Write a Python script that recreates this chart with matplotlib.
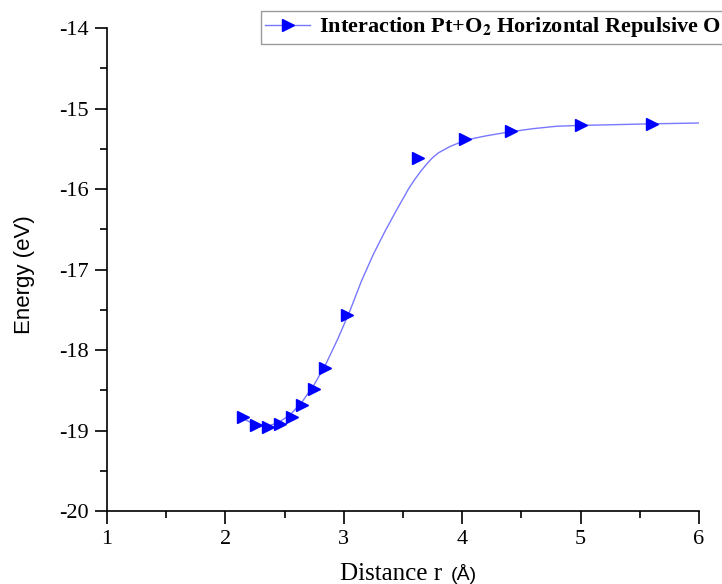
import matplotlib.pyplot as plt
from matplotlib.lines import Line2D
from matplotlib.ticker import MultipleLocator

# computed points (r in Angstrom, energy in eV)
r_pts = [2.15, 2.26, 2.36, 2.46, 2.56, 2.65, 2.75, 2.84, 3.03, 3.63, 4.02, 4.41, 5.00, 5.60]
e_pts = [-18.83, -18.93, -18.96, -18.92, -18.83, -18.68, -18.48, -18.22, -17.57, -15.61,
         -15.38, -15.28, -15.20, -15.19]

# fitted curve
r_fit = [2.15, 2.25, 2.35, 2.45, 2.55, 2.65, 2.75, 2.85, 2.95, 3.05, 3.15, 3.25, 3.35,
         3.45, 3.55, 3.60, 3.65, 3.70, 3.75, 3.80, 3.85, 3.90, 4.00, 4.10, 4.20, 4.40,
         4.60, 4.80, 5.00, 5.30, 5.60, 6.00]
e_fit = [-18.85, -18.93, -18.95, -18.90, -18.80, -18.64, -18.43, -18.17, -17.86, -17.52,
         -17.14, -16.81, -16.52, -16.25, -15.99, -15.88, -15.78, -15.69, -15.61, -15.55,
         -15.51, -15.47, -15.41, -15.37, -15.34, -15.29, -15.25, -15.22, -15.21, -15.20,
         -15.19, -15.18]

label = "Interaction Pt+O$_\\mathbf{2}$ Horizontal Repulsive O"

plt.rcParams['mathtext.fontset'] = 'stix'
plt.rcParams['axes.unicode_minus'] = False

fig = plt.figure(figsize=(7.22, 5.84), dpi=100)
ax = fig.add_axes([0.1482, 0.125, 0.8199, 0.827])

ax.plot(r_fit, e_fit, color="#7878ff", lw=1.0)
ax.plot(r_pts, e_pts, ls="none", marker=">", ms=9, color="#0000ff")

ax.set_xlim(1, 6)
ax.set_ylim(-20, -14)
ax.xaxis.set_major_locator(MultipleLocator(1))
ax.xaxis.set_minor_locator(MultipleLocator(0.5))
ax.yaxis.set_major_locator(MultipleLocator(1))
ax.yaxis.set_minor_locator(MultipleLocator(0.5))

for s in ["top", "right"]:
    ax.spines[s].set_visible(False)
for s in ["left", "bottom"]:
    ax.spines[s].set_linewidth(1.2)

ax.tick_params(which="major", direction="out", length=9, width=1.2, pad=4)
ax.tick_params(axis="x", which="major", pad=5)
ax.tick_params(which="minor", direction="out", length=5, width=1.2)
for t in ax.get_xticklabels() + ax.get_yticklabels():
    t.set_family("Liberation Serif")
    t.set_fontsize(16)

ax.set_ylabel("Energy (eV)", family="Liberation Sans", fontsize=16)
ax.yaxis.set_label_coords(-0.122, 0.49)

# x label: serif words plus a sans unit, as in the original
fig.text(340 / 722, 1 - 580 / 584, "Distance r", family="Liberation Serif", fontsize=18,
         ha="left", va="baseline")
fig.text(451 / 722, 1 - 580 / 584, "(Å)", family="Liberation Sans", fontsize=14,
         ha="left", va="baseline")

h = Line2D([], [], color="#7878ff", lw=1.0, marker=">", ms=8,
           markerfacecolor="#0000ff", markeredgecolor="#0000ff")
leg = fig.legend([h], [label], loc="upper left", bbox_to_anchor=(261 / 722, 1 - 11 / 584),
                 prop={"family": "Liberation Serif", "weight": "bold", "size": 16},
                 frameon=True, fancybox=False, edgecolor="#808080",
                 handlelength=2.0, borderpad=0.2, handletextpad=0.4, borderaxespad=0)
leg.get_frame().set_linewidth(1.0)

fig.savefig("out.png", dpi=100)
